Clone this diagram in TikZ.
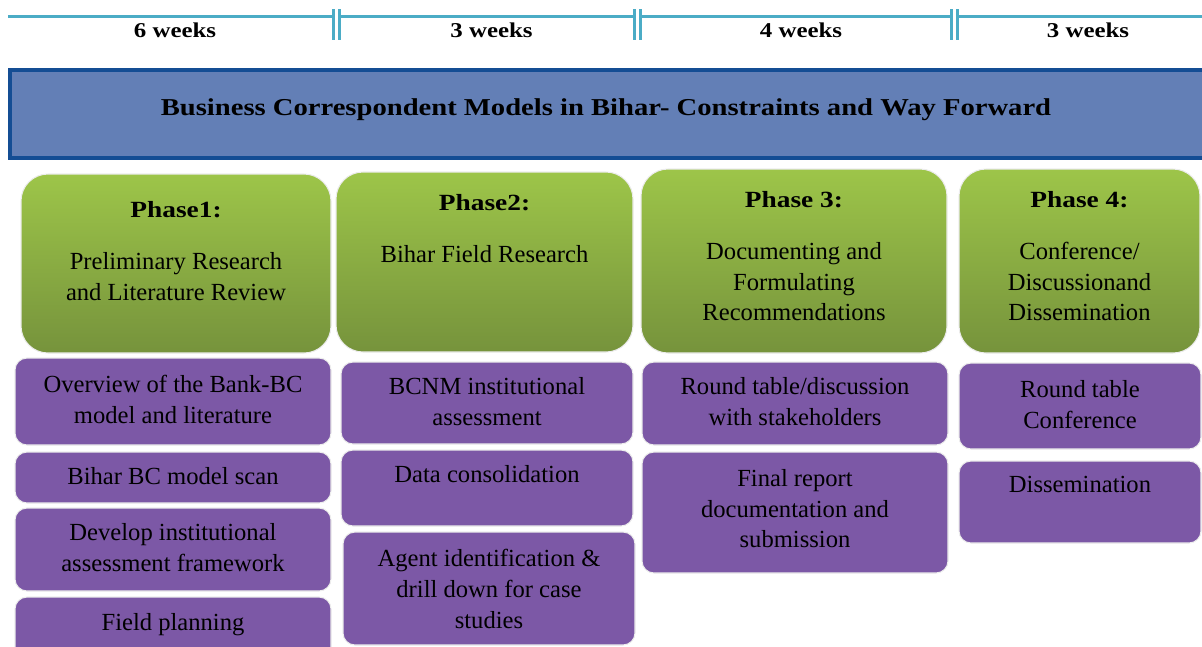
\documentclass[tikz,border=0pt]{standalone}
\usepackage{fontspec}
\setmainfont{Liberation Serif}
\newfontfamily\headfont[FakeStretch=1.18]{Liberation Serif}
\usetikzlibrary{positioning, fit, calc}
\definecolor{lineblue}{RGB}{75,172,198}
\definecolor{bcfill}{RGB}{99,127,182}
\definecolor{bcborder}{RGB}{20,77,148}
\definecolor{phtop}{RGB}{157,197,73}
\definecolor{phbot}{RGB}{118,147,60}
\definecolor{taskpurple}{RGB}{124,88,166}
\newcommand{\phhead}[1]{{\headfont\bfseries\fontsize{13.2}{16}\selectfont #1}}

\begin{document}
\begin{tikzpicture}[
  tl/.style={lineblue, line width=1.7pt},
  wk/.style={anchor=base, inner sep=0pt, font=\headfont\bfseries\fontsize{12}{14}\selectfont},
  titlebox/.style={draw=bcborder, line width=2.3pt, fill=bcfill, inner sep=0pt},
  phasebox/.style={rounded corners=0.54cm, draw=white!85!gray, line width=0.6pt,
    top color=phtop, bottom color=phbot, inner sep=0pt},
  taskbox/.style={rounded corners=0.24cm, draw=white!85!gray, line width=0.6pt,
    fill=taskpurple, inner sep=0pt},
  txt/.style={align=center, inner sep=0pt, anchor=north,
    font=\fontsize{14}{17.5}\selectfont},
]
  \clip (0,0) rectangle (24.04,-12.92);

  % timeline across the top
  \foreach \a/\b in {0.16/6.67, 6.79/12.69, 12.80/19.03, 19.15/24.10}
    \draw[tl] (\a,-0.32) -- (\b,-0.32);
  \foreach \x in {6.67, 6.79, 12.69, 12.80, 19.03, 19.15}
    \draw[tl] (\x,-0.18) -- (\x,-0.80);
  \node[wk] (wk1) at (3.50,-0.74) {6 weeks};
  \node[wk] (wk2) at (9.83,-0.74) {3 weeks};
  \node[wk] (wk3) at (16.02,-0.74) {4 weeks};
  \node[wk] (wk4) at (21.76,-0.74) {3 weeks};

  % project title bar
  \node[titlebox, fit={(0.20,-1.40) (24.40,-3.16)}] (ttlbox) {};
  \node[anchor=base, inner sep=0pt, font=\headfont\bfseries\fontsize{13.8}{16}\selectfont]
    (ttl) at (12.12,-2.30) {Business Correspondent Models in Bihar- Constraints and Way Forward};

  % phases
  \node[phasebox, fit={(0.42,-3.48) (6.62,-7.06)}] (ph1) {};
  \node[phasebox, fit={(6.72,-3.44) (12.66,-7.04)}] (ph2) {};
  \node[phasebox, fit={(12.82,-3.38) (18.94,-7.06)}] (ph3) {};
  \node[phasebox, fit={(19.18,-3.38) (24.00,-7.06)}] (ph4) {};
  \node[txt] (ph1t) at (3.52,-4.02) {\phhead{Phase1:}\\[12pt]Preliminary Research\\and Literature Review};
  \node[txt] (ph2t) at (9.69,-3.88) {\phhead{Phase2:}\\[12pt]Bihar Field Research};
  \node[txt] (ph3t) at (15.88,-3.82) {\phhead{Phase 3:}\\[12pt]Documenting and\\Formulating\\Recommendations};
  \node[txt] (ph4t) at (21.59,-3.82) {\phhead{Phase 4:}\\[12pt]Conference/\\Discussionand\\Dissemination};

  % activities, phase 1
  \node[taskbox, fit={(0.30,-7.16) (6.62,-8.90)}] (b11) {};
  \node[taskbox, fit={(0.30,-9.04) (6.62,-10.06)}] (b12) {};
  \node[taskbox, fit={(0.30,-10.16) (6.62,-11.82)}] (b13) {};
  \node[taskbox, fit={(0.30,-11.94) (6.62,-13.40)}] (b14) {};
  \node[txt] (t11) at (3.46,-7.50) {Overview of the Bank-BC\\model and literature};
  \node[txt] (t12) at (3.46,-9.34) {Bihar BC model scan};
  \node[txt] (t13) at (3.46,-10.46) {Develop institutional\\assessment framework};
  \node[txt] (t14) at (3.46,-12.26) {Field planning};

  % activities, phase 2
  \node[taskbox, fit={(6.82,-7.24) (12.66,-8.88)}] (b21) {};
  \node[taskbox, fit={(6.82,-9.00) (12.66,-10.52)}] (b22) {};
  \node[taskbox, fit={(6.86,-10.64) (12.70,-12.90)}] (b23) {};
  \node[txt] (t21) at (9.74,-7.54) {BCNM institutional\\assessment};
  \node[txt] (t22) at (9.74,-9.30) {Data consolidation};
  \node[txt] (t23) at (9.78,-10.98) {Agent identification \&\\drill down for case\\studies};

  % activities, phase 3
  \node[taskbox, fit={(12.84,-7.24) (18.96,-8.90)}] (b31) {};
  \node[taskbox, fit={(12.84,-9.04) (18.96,-11.46)}] (b32) {};
  \node[txt] (t31) at (15.90,-7.54) {Round table/discussion\\with stakeholders};
  \node[txt] (t32) at (15.90,-9.38) {Final report\\documentation and\\submission};

  % activities, phase 4
  \node[taskbox, fit={(19.18,-7.26) (24.02,-8.98)}] (b41) {};
  \node[taskbox, fit={(19.18,-9.22) (24.02,-10.86)}] (b42) {};
  \node[txt] (t41) at (21.60,-7.60) {Round table\\Conference};
  \node[txt] (t42) at (21.60,-9.52) {Dissemination};
\end{tikzpicture}
\end{document}
